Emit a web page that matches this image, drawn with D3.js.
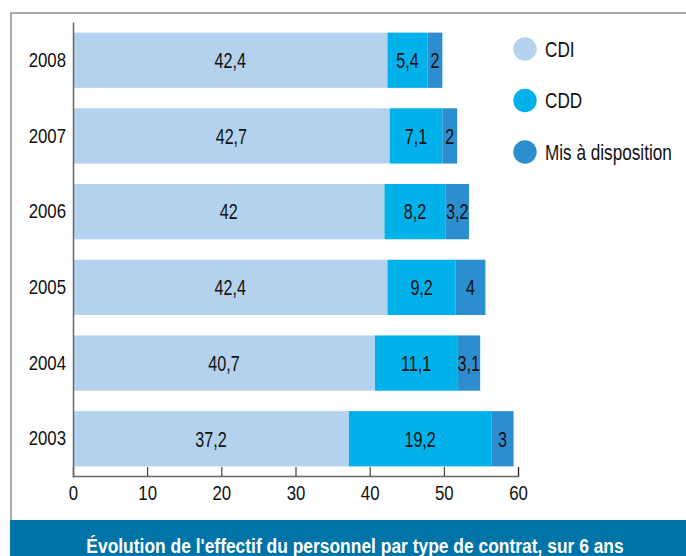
<!DOCTYPE html>
<html>
<head>
<meta charset="utf-8">
<script src="https://cdn.jsdelivr.net/npm/d3@7"></script>
<style>
  body { margin: 0; background: #fff; }
  text { font-family: "Liberation Sans", Arial, sans-serif; }
</style>
</head>
<body>
<div id="chart"></div>
<script>

// chart data
var years = ["2008", "2007", "2006", "2005", "2004", "2003"];
var cdi = [42.4, 42.7, 42, 42.4, 40.7, 37.2];
var cdd = [5.4, 7.1, 8.2, 9.2, 11.1, 19.2];
var mad = [2, 2, 3.2, 4, 3.1, 3];
var series_names = ["CDI", "CDD", "Mis à disposition"];
var series_colors = ["#b4d2ed", "#00b1ea", "#2c8dcf"];
var x_ticks = [0, 10, 20, 30, 40, 50, 60];
var title = "Évolution de l'effectif du personnel par type de contrat, sur 6 ans";

// the original uses a narrow font, so squeeze the glyphs horizontally
function squeeze(x, y, k) {
  return "translate(" + x + "," + y + ") scale(" + k + ",1)";
}

window.onload = function () {

  var width = 686, height = 556;

  var svg = d3.select("#chart")
              .append("svg")
                .attr("width", width)
                .attr("height", height);

  // frame round the chart
  svg.append("path")
     .attr("d", "M11,520 V13 H686")
     .attr("fill", "none")
     .attr("stroke", "#a8a8a8")
     .attr("stroke-width", 2);

  // build rows for the stack
  var rows = years.map(function (y, i) {
    return {year: y, CDI: cdi[i], CDD: cdd[i], "Mis à disposition": mad[i]};
  });
  var stacked = d3.stack().keys(series_names)(rows);

  var x_scale = d3.scaleLinear()
                  .domain([0, 60])
                  .range([73, 518]);

  var y_scale = d3.scaleBand()
                  .domain(years)
                  .range([22, 477])
                  .paddingInner(0.27)
                  .paddingOuter(0.14);

  // bars
  var layers = svg.selectAll("g.layer")
      .data(stacked)
      .enter()
      .append("g")
        .attr("class", "layer")
        .attr("fill", function (d, i) { return series_colors[i]; });

  layers.selectAll("rect")
      .data(function (d) { return d; })
      .enter()
      .append("rect")
        .attr("x", function (d) { return x_scale(d[0]); })
        .attr("y", function (d) { return y_scale(d.data.year); })
        .attr("width", function (d) { return x_scale(d[1]) - x_scale(d[0]); })
        .attr("height", y_scale.bandwidth());

  // value labels in the middle of each segment
  layers.selectAll("text")
      .data(function (d) { return d; })
      .enter()
      .append("text")
        .attr("transform", function (d) {
          return squeeze(x_scale((d[0] + d[1]) / 2),
                         y_scale(d.data.year) + y_scale.bandwidth() / 2, 0.75);
        })
        .attr("dy", "0.36em")
        .attr("text-anchor", "middle")
        .attr("fill", "#111")
        .style("font-size", "21.5px")
        .text(function (d) { return String(+(d[1] - d[0]).toFixed(1)).replace(".", ","); });

  // x axis
  var x_axis = svg.append("g")
      .attr("transform", "translate(0,476)")
      .call(d3.axisBottom(x_scale)
              .tickValues(x_ticks)
              .tickSize(-9)
              .tickSizeOuter(-9));
  x_axis.select(".domain").attr("stroke", "#666").attr("stroke-width", 1.5);
  x_axis.selectAll(".tick line").attr("stroke", "#222");
  x_axis.selectAll(".tick text")
        .attr("y", null)
        .attr("dy", null)
        .attr("transform", squeeze(0, 24, 0.8))
        .attr("fill", "#111")
        .style("font-size", "21px");

  // y axis
  var y_axis = svg.append("g")
      .attr("transform", "translate(73,0)")
      .call(d3.axisLeft(y_scale).tickSize(0).tickSizeOuter(0));
  y_axis.select(".domain").attr("stroke", "#666").attr("stroke-width", 1.5);
  y_axis.selectAll(".tick text")
        .attr("x", null)
        .attr("transform", squeeze(-7, 0, 0.8))
        .attr("fill", "#111")
        .style("font-size", "21px");

  // legend
  var legend = svg.append("g")
      .selectAll("g")
      .data(series_names)
      .enter()
      .append("g")
        .attr("transform", function (d, i) { return "translate(525," + (49 + 51.5 * i) + ")"; });

  legend.append("circle")
        .attr("r", 11.7)
        .attr("fill", function (d, i) { return series_colors[i]; });

  legend.append("text")
        .attr("transform", squeeze(20, 0, 0.78))
        .attr("dy", "0.36em")
        .attr("fill", "#111")
        .style("font-size", "22px")
        .text(function (d) { return d; });

  // title banner
  svg.append("rect")
     .attr("x", 10)
     .attr("y", 520)
     .attr("width", width - 10)
     .attr("height", height - 520)
     .attr("fill", "#0073a8");

  svg.append("text")
     .attr("transform", squeeze(355, 553, 0.83))
     .attr("text-anchor", "middle")
     .attr("fill", "#fff")
     .style("font-size", "21px")
     .style("font-weight", "bold")
     .text(title);
};
</script>
</body>
</html>
